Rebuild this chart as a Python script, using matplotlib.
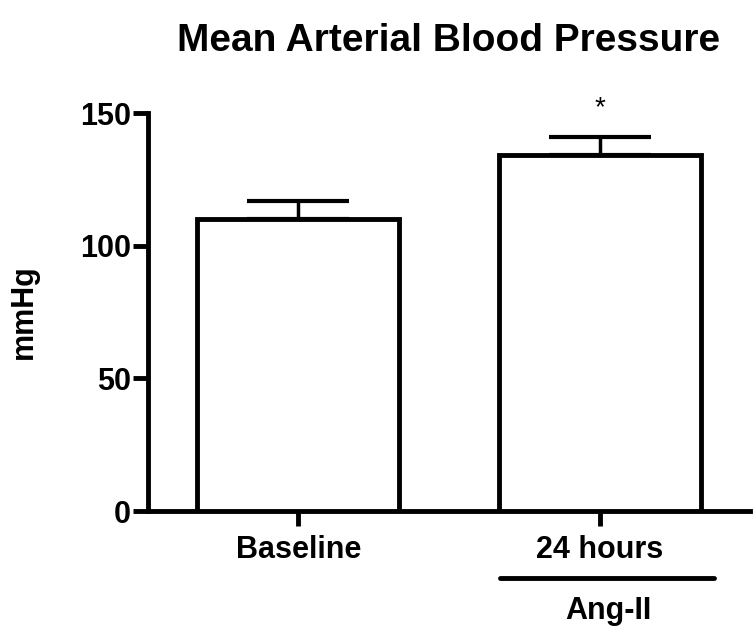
import numpy as np
import matplotlib.pyplot as plt

plt.rcParams['font.family'] = ['Liberation Sans Narrow', 'Liberation Sans', 'DejaVu Sans']
plt.rcParams['font.weight'] = 'bold'

groups = ['Baseline', '24 hours']
means = [110, 134]
sems = [7, 7]

fig = plt.figure(figsize=(7.54, 6.35), dpi=100)
ax = fig.add_axes([0.196, 0.195, 0.799, 0.627])

x = np.arange(len(groups))
ax.bar(x, means, width=0.67, color='white', edgecolor='black', linewidth=3.5, zorder=3)
ax.errorbar(x, means, yerr=[np.zeros(len(sems)), sems], fmt='none', ecolor='black',
            elinewidth=2.5, capsize=37, capthick=3, zorder=2)

ax.set_xlim(-0.5, 1.5)
ax.set_ylim(0, 150)
ax.set_yticks([0, 50, 100, 150])
ax.set_xticks(x)
ax.set_xticklabels(groups)

for s in ['top', 'right']:
    ax.spines[s].set_visible(False)
for s in ['left', 'bottom']:
    ax.spines[s].set_linewidth(3.5)
ax.tick_params(axis='both', length=11, width=3.5, labelsize=22, direction='out')
ax.tick_params(axis='y', pad=1)
ax.tick_params(axis='x', pad=6)

ax.set_ylabel('mmHg', fontsize=22, fontweight='bold', labelpad=30)
ax.set_title('Mean Arterial Blood Pressure', fontsize=28, fontweight='bold', pad=45)

# significance star
ax.text(x[1], means[1] + sems[1] + 11, '*', ha='center', va='center', fontsize=20,
        fontweight='normal')

# treatment bracket
trans = ax.get_xaxis_transform()
ax.plot([0.67, 1.38], [-0.168, -0.168], color='black', linewidth=3.5, transform=trans,
        clip_on=False, solid_capstyle='round')
ax.text(1.03, -0.25, 'Ang-II', ha='center', va='center', fontsize=22, transform=trans)

fig.savefig('out.png', dpi=100)
